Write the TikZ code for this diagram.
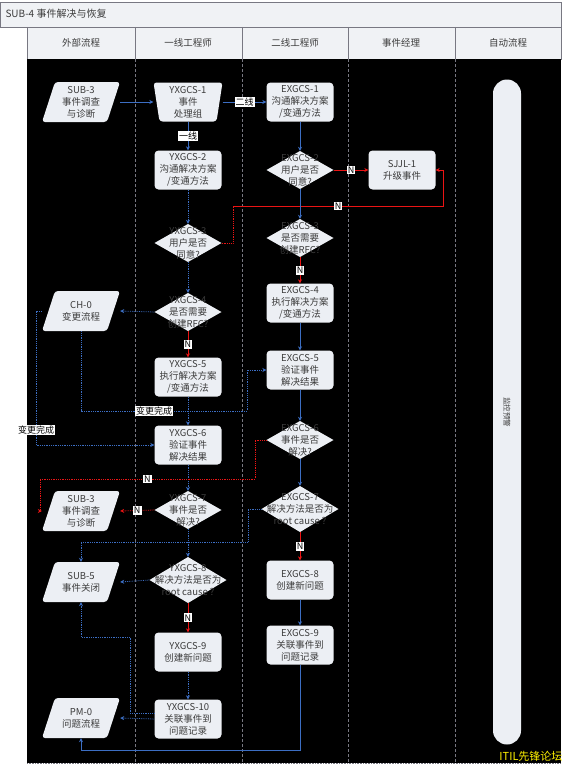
\documentclass[tikz,border=0pt]{standalone}
\usepackage{fontspec}
\setmainfont{Noto Sans CJK SC}
\usetikzlibrary{arrows.meta}
\definecolor{nf}{RGB}{236,239,244}
\definecolor{bl}{RGB}{60,110,195}
\definecolor{rd}{RGB}{235,20,20}
\definecolor{tx}{RGB}{60,60,60}
\definecolor{hd}{RGB}{240,242,245}
\definecolor{ln}{RGB}{120,120,130}
\begin{document}
\begin{tikzpicture}[x=1pt,y=-1pt,
  font=\fontsize{9.5}{12}\selectfont,
  proc/.style={fill=nf, rounded corners=4pt, minimum width=67pt, minimum height=39pt, inner sep=1pt, align=center, text=tx},
  dia/.style={minimum width=67pt, minimum height=38pt, inner sep=0pt, align=center, text=tx,
    path picture={\fill[nf] (path picture bounding box.north) -- (path picture bounding box.east) -- (path picture bounding box.south) -- (path picture bounding box.west) -- cycle;}},
  wdia/.style={dia, minimum width=77pt, minimum height=46pt},
  para/.style={minimum width=78pt, minimum height=40pt, inner sep=0pt, align=center, text=tx,
    path picture={\fill[nf, rounded corners=3pt] ([xshift=13pt]path picture bounding box.north west) -- (path picture bounding box.north east) -- ([xshift=-13pt]path picture bounding box.south east) -- (path picture bounding box.south west) -- cycle;}},
  trap/.style={minimum width=69pt, minimum height=39pt, inner sep=0pt, align=center, text=tx,
    path picture={\fill[nf, rounded corners=3pt] (path picture bounding box.north west) -- (path picture bounding box.north east) -- ([xshift=-6pt]path picture bounding box.south east) -- ([xshift=6pt]path picture bounding box.south west) -- cycle;}},
  lbl/.style={fill=white, text=black, inner sep=1pt, font=\fontsize{9}{10}\selectfont},
  tip/.style={-{Stealth[length=4pt,width=4pt]}},
  bls/.style={tip, draw=bl, line width=0.8pt},
  bld/.style={tip, draw=bl, line width=0.8pt, densely dotted},
  rds/.style={tip, draw=rd, line width=0.8pt},
  rdd/.style={tip, draw=rd, line width=0.8pt, densely dotted},
  lane/.style={draw=ln, line width=0.5pt}
]
\useasboundingbox (0,0) rectangle (566,768);
\fill[white] (0,0) rectangle (566,768);
% title bar
\fill[hd] (0,2) rectangle (561,27);
\draw[lane] (0,2) rectangle (561,27);
\node[anchor=west, text=tx, font=\fontsize{10}{11}\selectfont] (title) at (2,14) {SUB-4 事件解决与恢复};
% left strip
\draw[lane] (27,27) -- (27,763);
% headers
\fill[hd] (27,27) rectangle (561,59);
\draw[lane] (27,27) rectangle (561,59);
\foreach \x in {135,242,348,455} \draw[lane] (\x,27) -- (\x,59);
\node[text=tx] (h1) at (81,43) {外部流程};
\node[text=tx] (h2) at (188,43) {一线工程师};
\node[text=tx] (h3) at (295,43) {二线工程师};
\node[text=tx] (h4) at (401,43) {事件经理};
\node[text=tx] (h5) at (508,43) {自动流程};
% body
\fill[black] (27,59) rectangle (561,763);
\foreach \x in {135,242,348,455} \draw[ln, densely dashed, line width=0.5pt] (\x,59) -- (\x,763);
\draw[ln, densely dotted, line width=0.6pt] (27,763) -- (561,763);

% pill
\node[fill=nf, rounded corners=14pt, minimum width=28pt, minimum height=665pt, inner sep=0pt] (mon) at (507,412) {};
\node[text=tx, rotate=-90, font=\fontsize{7.5}{8}\selectfont] (mont) at (mon.center) {监控预警};

% nodes left lane
\node[para] (sub3) at (81,102) {SUB-3\\事件调查\\与诊断};
\node[para] (ch0) at (81,311) {CH-0\\变更流程};
\node[para] (sub3b) at (81,511) {SUB-3\\事件调查\\与诊断};
\node[para] (sub5) at (81,582) {SUB-5\\事件关闭};
\node[para] (pm0) at (81,718) {PM-0\\问题流程};

% first line
\node[trap] (yx1) at (188,102) {YXGCS-1\\事件\\处理组};
\node[proc] (yx2) at (188,170) {YXGCS-2\\沟通解决方案\\/变通方法};
\node[dia] (yx3) at (188,243) {YXGCS-3\\用户是否\\同意?};
\node[dia] (yx4) at (188,312) {YXGCS-4\\是否需要\\创建RFC?};
\node[proc] (yx5) at (188,377) {YXGCS-5\\执行解决方案\\/变通方法};
\node[proc] (yx6) at (188,445) {YXGCS-6\\验证事件\\解决结果};
\node[dia] (yx7) at (188,510) {YXGCS-7\\事件是否\\解决?};
\node[wdia] (yx8) at (188,580) {YXGCS-8\\解决方法是否为\\root cause ?};
\node[proc] (yx9) at (188,652) {YXGCS-9\\创建新问题};
\node[proc] (yx10) at (188,719) {YXGCS-10\\关联事件到\\问题记录};

% second line
\node[proc] (ex1) at (300,102) {EXGCS-1\\沟通解决方案\\/变通方法};
\node[dia] (ex2) at (300,170) {EXGCS-2\\用户是否\\同意?};
\node[dia] (ex3) at (300,238) {EXGCS-3\\是否需要\\创建RFC?};
\node[proc] (ex4) at (300,303) {EXGCS-4\\执行解决方案\\/变通方法};
\node[proc] (ex5) at (300,370) {EXGCS-5\\验证事件\\解决结果};
\node[dia] (ex6) at (300,440) {EXGCS-6\\事件是否\\解决?};
\node[wdia] (ex7) at (300,509) {EXGCS-7\\解决方法是否为\\root cause ?};
\node[proc] (ex8) at (300,580) {EXGCS-8\\创建新问题};
\node[proc] (ex9) at (300,645) {EXGCS-9\\关联事件到\\问题记录};

% incident manager
\node[proc] (sj1) at (402,170) {SJJL-1\\升级事件};

% connectors
\draw[bls] (sub3.east) -- (yx1.west);
\draw[bls] (yx1.east) -- node[lbl] (l2x) {二线} (ex1.west);
\draw[bls] (yx1.south) -- node[lbl] (l1x) {一线} (yx2.north);
\draw[bld] (yx2.south) -- (yx3.north);
\draw[bld] (yx3.south) -- (yx4.north);
\draw[bls] (ex1.south) -- (ex2.north);
\draw[rds] (ex2.east) -- node[lbl] (ln1) {N} (sj1.west);
\coordinate (rc1) at (233,206);
\draw[draw=rd, line width=0.8pt, densely dotted] (yx3.east) -| (rc1);
\draw[rds] (rc1) -- node[lbl] (ln2) {N} (443,206) |- (sj1.east);
\draw[bls] (ex2.south) -- (ex3.north);
\draw[rds] (ex3.south) -- node[lbl] (ln3) {N} (ex4.north);
\draw[bls] (ex4.south) -- (ex5.north);
\draw[bls] (ex5.south) -- (ex6.north);
\draw[bls] (ex6.south) -- (ex7.north);
\draw[rds] (ex7.south) -- node[lbl] (ln4) {N} (ex8.north);
\draw[bls] (ex8.south) -- (ex9.north);
\draw[bls] (ex9.south) |- (81,750) -- (pm0.south);

\draw[bld] (yx4.west) -- (ch0.east);
\draw[rds] (yx4.south) -- node[lbl] (ln5) {N} (yx5.north);
\draw[bld] (ch0.south) |- node[lbl, pos=0.72] (lc1) {变更完成} (247,411) |- (ex5.west);
\draw[bld] (ch0.west) -- (36,311) |- (yx6.west);
\node[lbl] (lc2) at (36,430) {变更完成};
\draw[bld] (yx5.south) -- (yx6.north);
\draw[bld] (yx6.south) -- (yx7.north);
\draw[rdd] (ex6.west) -- (255,440) -- (255,479) -- node[lbl] (ln6) {N} (40,479) |- (sub3b.west);
\draw[rdd] (yx7.west) -- node[lbl] (ln7) {N} (sub3b.east);
\draw[bld] (yx7.south) -- (yx8.north);
\draw[bld] (ex7.west) -- (248,509) |- (81,542) -- (sub5.north);
\draw[bld] (yx8.west) -- (sub5.east);
\draw[rds] (yx8.south) -- node[lbl] (ln8) {N} (yx9.north);
\draw[bld] (yx9.south) -- (yx10.north);
\draw[bld] (yx10.west) -- (pm0.east);
\draw[bld] ([yshift=6pt]yx10.west) -| (130,637) -| (sub5.south);

% watermark
\node[anchor=east, text=yellow, font=\fontsize{11}{12}\selectfont] (wm) at (566,756) {ITIL先锋论坛};
\end{tikzpicture}
\end{document}
